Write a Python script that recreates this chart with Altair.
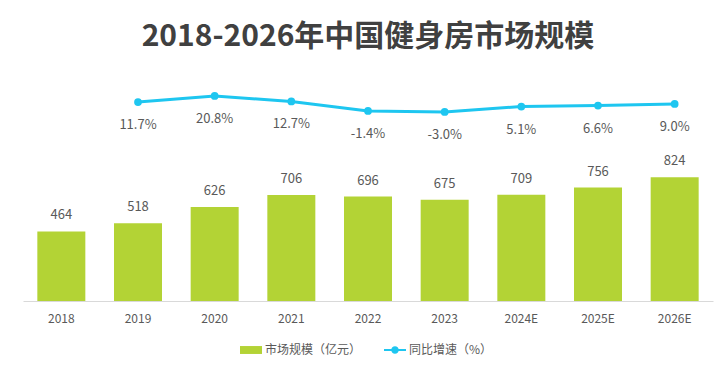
import altair as alt
import pandas as pd

years = ["2018", "2019", "2020", "2021", "2022", "2023", "2024E", "2025E", "2026E"]
market = [464, 518, 626, 706, 696, 675, 709, 756, 824]
growth = [11.7, 20.8, 12.7, -1.4, -3.0, 5.1, 6.6, 9.0]
growth_years = years[1:]

S_BAR = "市场规模（亿元）"
S_LINE = "同比增速（%）"
GREEN = "#B3D335"
BLUE = "#1EC6F0"
TXT = "#595959"
FONT = "Noto Sans CJK SC"

bar_df = pd.DataFrame({"year": years, "value": market, "series": S_BAR})
line_df = pd.DataFrame({"year": growth_years, "value": growth, "series": S_LINE})
line_df["label"] = [f"{v:.1f}%" for v in growth]

xenc = alt.X("year:N", sort=years, title=None,
             scale=alt.Scale(paddingInner=0.37, paddingOuter=0.185),
             axis=alt.Axis(labelAngle=0, ticks=False, domainColor="#D9D9D9", domainWidth=1,
                           labelColor=TXT, labelFontSize=12, labelPadding=12, labelFont=FONT, grid=False))

color = alt.Color("series:N", title=None,
                  scale=alt.Scale(domain=[S_BAR, S_LINE], range=[GREEN, BLUE]),
                  legend=alt.Legend(orient="none", legendX=217, legendY=259, direction="horizontal",
                                    labelFontSize=12, labelColor=TXT, labelFont=FONT, symbolSize=484,
                                    symbolStrokeWidth=0, columnPadding=22, labelOffset=3))
shape = alt.Shape("series:N", title=None,
                  scale=alt.Scale(domain=[S_BAR, S_LINE],
                                  range=["M-1,-0.36H1V0.36H-1Z",
                                         "M-1,-0.09H1V0.09H-1Z M0.34,0 A0.34,0.34 0 1 1 -0.34,0 A0.34,0.34 0 1 1 0.34,0Z"]))

ybar = alt.Y("value:Q", scale=alt.Scale(domain=[0, 1473], nice=False, zero=False), axis=None)
yline = alt.Y("value:Q", scale=alt.Scale(domain=[-284.2, 44.6], nice=False, zero=False), axis=None)

bars = alt.Chart(bar_df).mark_bar(size=48).encode(x=xenc, y=ybar, color=color)
bar_text = alt.Chart(bar_df).mark_text(dy=-16, fontSize=13, color=TXT, font=FONT).encode(
    x=xenc, y=ybar, text="value:Q")

line = alt.Chart(line_df).mark_line(strokeWidth=3).encode(x=xenc, y=yline, color=color)
dots = alt.Chart(line_df).mark_circle(size=60, opacity=1).encode(x=xenc, y=yline, color=color)
# legend-only layer (no visible marks) providing the legend symbol shapes
legend_pts = alt.Chart(line_df).transform_filter("false").mark_point(filled=True).encode(
    x=xenc, y=yline, color=color, shape=shape)
line_text = alt.Chart(line_df).mark_text(dy=23, fontSize=13, color=TXT, font=FONT).encode(
    x=xenc, y=yline, text="label:N")

bar_layer = alt.layer(bars, bar_text)
line_layer = alt.layer(line, dots, legend_pts, line_text)

chart = alt.layer(bar_layer, line_layer).resolve_scale(y="independent").properties(
    width=690, height=221,
    autosize=alt.AutoSizeParams(type="none"),
    padding={"left": 23, "top": 80, "right": 6, "bottom": 76},
    title=alt.TitleParams("2018-2026年中国健身房市场规模", fontSize=30, font=FONT, fontWeight="bold",
                          color="#404040", anchor="middle", baseline="bottom", offset=-2),
).configure(background="white").configure_view(strokeWidth=0)

chart.save("out.html", embed_options={"renderer": "svg", "actions": False})
